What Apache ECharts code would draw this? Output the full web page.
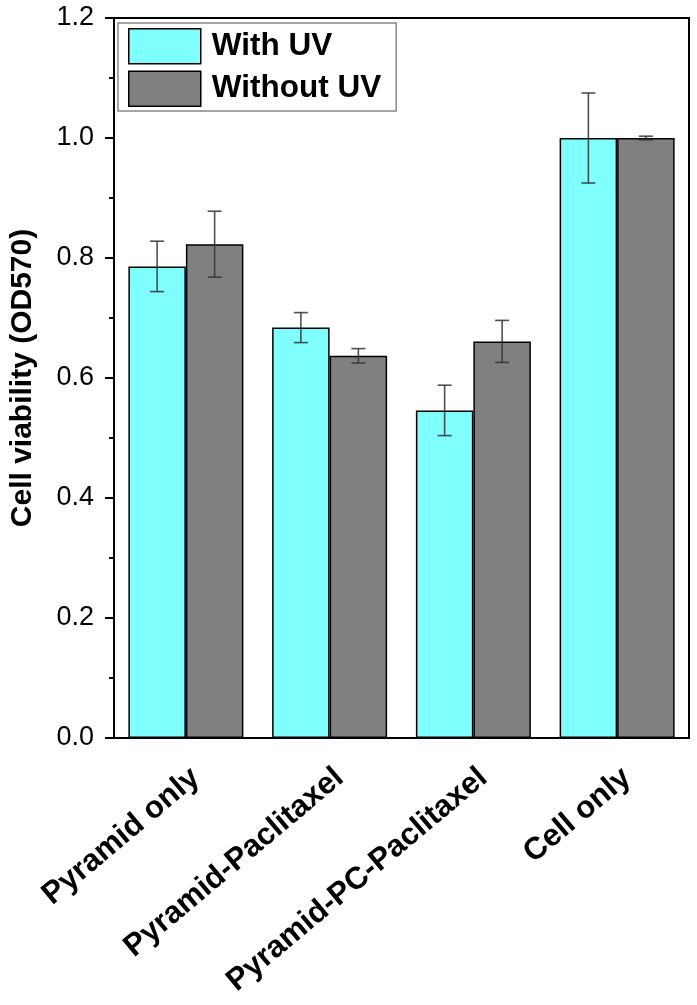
<!DOCTYPE html>
<html>
<head>
<meta charset="utf-8">
<script src="https://cdn.jsdelivr.net/npm/echarts@6/dist/echarts.min.js"></script>
<style>
html,body{margin:0;padding:0;background:#fff;}
#main{width:697px;height:1005px;}
</style>
</head>
<body>
<div id="main"></div>
<script>
var categories = ['Pyramid only', 'Pyramid-Paclitaxel', 'Pyramid-PC-Paclitaxel', 'Cell only'];
var withUV = [0.786, 0.684, 0.546, 1.000];
var withUVErr = [0.042, 0.025, 0.042, 0.075];
var withoutUV = [0.823, 0.637, 0.661, 1.000];
var withoutUVErr = [0.055, 0.012, 0.035, 0.003];
var seriesNames = ['With UV', 'Without UV'];
var yTicks = { min: 0, max: 1.2, interval: 0.2 };

var FONT = '"Liberation Sans", Arial, sans-serif';

function errData(vals, errs) {
  return vals.map(function (v, i) { return [i, v - errs[i], v + errs[i]]; });
}

function makeErr(sign) {
  return function (params, api) {
    var x = api.value(0);
    var lo = api.coord([x, api.value(1)]);
    var hi = api.coord([x, api.value(2)]);
    var band = api.size([1, 0])[0];
    var cx = lo[0] + sign * band * 0.2;
    var hw = 7;
    var style = { stroke: 'rgba(50,50,50,0.85)', lineWidth: 1.6, fill: null };
    return {
      type: 'group',
      children: [
        { type: 'line', shape: { x1: cx, y1: lo[1], x2: cx, y2: hi[1] }, style: style },
        { type: 'line', shape: { x1: cx - hw, y1: lo[1], x2: cx + hw, y2: lo[1] }, style: style },
        { type: 'line', shape: { x1: cx - hw, y1: hi[1], x2: cx + hw, y2: hi[1] }, style: style }
      ]
    };
  };
}

var chart = echarts.init(document.getElementById('main'));
chart.setOption({
  animation: false,
  backgroundColor: '#fff',
  textStyle: { fontFamily: FONT, color: '#000' },
  grid: {
    left: 112, right: 8, top: 18, bottom: 267,
    show: true, borderColor: '#000', borderWidth: 2, backgroundColor: 'transparent'
  },
  legend: {
    left: 118, top: 23,
    orient: 'vertical',
    itemWidth: 72, itemHeight: 35, itemGap: 6,
    padding: [5, 15, 4, 10],
    borderColor: '#888', borderWidth: 1.5,
    textStyle: { fontFamily: FONT, fontWeight: 'bold', fontSize: 31.5, color: '#000', padding: [0, 0, 0, 6] },
    data: [
      { name: seriesNames[0], icon: 'rect', itemStyle: { color: '#80FFFF', borderColor: '#000', borderWidth: 1.5 } },
      { name: seriesNames[1], icon: 'rect', itemStyle: { color: '#808080', borderColor: '#000', borderWidth: 1.5 } }
    ]
  },
  xAxis: [
    {
      type: 'category',
      data: categories,
      position: 'bottom',
      axisLine: { lineStyle: { color: '#000', width: 2 } },
      axisTick: { alignWithLabel: true, length: 11, lineStyle: { color: '#000', width: 2 } },
      axisLabel: {
        rotate: 40, margin: 24, interval: 0,
        verticalAlign: 'top',
        fontFamily: FONT, fontWeight: 'bold', fontSize: 31, color: '#000'
      },
      splitLine: { show: false }
    },
    {
      type: 'category',
      data: categories,
      position: 'bottom',
      axisLine: { show: false },
      axisTick: { length: 6, lineStyle: { color: '#000', width: 2 } },
      axisLabel: { show: false },
      splitLine: { show: false }
    }
  ],
  yAxis: {
    type: 'value',
    min: yTicks.min, max: yTicks.max, interval: yTicks.interval,
    name: 'Cell viability (OD570)',
    nameLocation: 'middle',
    nameGap: 76,
    nameTextStyle: { fontFamily: FONT, fontWeight: 'bold', fontSize: 30, color: '#000' },
    axisLine: { show: true, lineStyle: { color: '#000', width: 2 } },
    axisTick: { show: true, length: 9, lineStyle: { color: '#000', width: 2 } },
    minorTick: { show: true, splitNumber: 2, length: 5, lineStyle: { color: '#000', width: 2 } },
    axisLabel: {
      margin: 20,
      fontFamily: FONT, fontSize: 27, color: '#000',
      formatter: function (v) { return v.toFixed(1); }
    },
    splitLine: { show: false }
  },
  series: [
    {
      name: seriesNames[0], type: 'bar', data: withUV,
      barWidth: '40%', barGap: '0%',
      itemStyle: { color: '#80FFFF', borderColor: '#000', borderWidth: 1.5 }
    },
    {
      name: seriesNames[1], type: 'bar', data: withoutUV,
      barWidth: '40%', barGap: '0%',
      itemStyle: { color: '#808080', borderColor: '#000', borderWidth: 1.5 }
    },
    {
      type: 'custom', name: 'errWith', data: errData(withUV, withUVErr),
      renderItem: makeErr(-1), z: 10, silent: true,
      encode: { x: 0, y: [1, 2] }
    },
    {
      type: 'custom', name: 'errWithout', data: errData(withoutUV, withoutUVErr),
      renderItem: makeErr(1), z: 10, silent: true,
      encode: { x: 0, y: [1, 2] }
    }
  ]
});
</script>
</body>
</html>
